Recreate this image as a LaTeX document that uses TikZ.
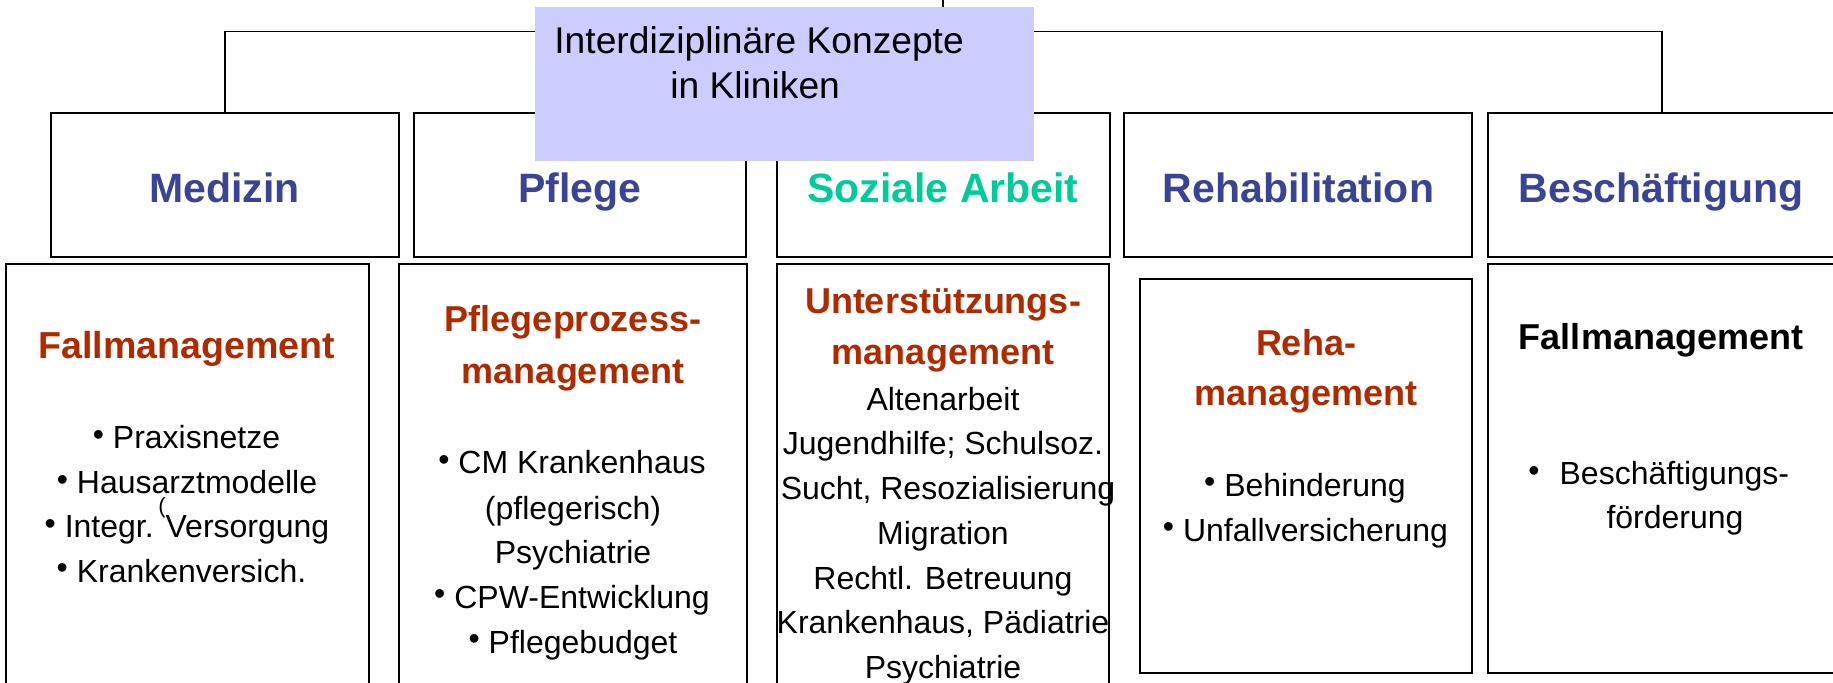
\documentclass[tikz,border=0pt]{standalone}
\usepackage{fontspec}
\usepackage{graphicx}
\setmainfont{Liberation Sans}
\definecolor{hblue}{RGB}{58,67,149}
\definecolor{hgreen}{RGB}{0,204,153}
\definecolor{hred}{RGB}{176,42,0}
\definecolor{lav}{RGB}{204,204,255}
\newcommand{\bul}{\raisebox{0.12em}{•}\ }
\begin{document}
\begin{tikzpicture}[x=0.5pt,y=-0.5pt,
  box/.style={draw=black,line width=1pt,inner sep=0pt},
  conn/.style={draw=black,line width=0.75pt},
  hdA/.style={font=\fontsize{20.5}{24}\selectfont\bfseries,anchor=base,text=hblue,inner sep=0pt},
  hdB/.style={font=\fontsize{18}{21}\selectfont\bfseries,anchor=base,text=hred,inner sep=0pt},
  bt/.style={font=\fontsize{16}{19}\selectfont,anchor=base,inner sep=0pt},
  ]
\useasboundingbox (0,0) rectangle (1833,683);

% row 1 boxes
\node[box,minimum width=347.5*0.5pt,minimum height=144*0.5pt] (med) at (224.75,184.7) {};
\node[box,minimum width=332.4*0.5pt,minimum height=144*0.5pt] (pfl) at (580.2,184.7) {};
\node[box,minimum width=333*0.5pt,minimum height=144*0.5pt] (soz) at (943,184.7) {};
\node[box,minimum width=348*0.5pt,minimum height=144*0.5pt] (reh) at (1298.35,184.7) {};
\node[box,minimum width=348*0.5pt,minimum height=144*0.5pt] (bes) at (1662,184.7) {};

% connectors
\coordinate (topin) at (943,0);
\coordinate (hl) at (943,31.7);
\draw[conn] (topin) -- (hl);
\draw[conn] (med.north) -- (med.north |- hl) -- (bes.north |- hl) -- (bes.north);

% central box
\node[fill=lav,minimum width=499*0.5pt,minimum height=154*0.5pt,inner sep=0pt] (root) at (784.5,84) {};
\node[font=\fontsize{18.6}{22}\selectfont,anchor=base west,inner sep=0pt] (rootA) at (554,53.3) {Interdiziplinäre Konzepte};
\node[font=\fontsize{18.6}{22}\selectfont,anchor=base west,inner sep=0pt] (rootB) at (670,98.3) {in Kliniken};

% row 1 titles
\node[hdA] (tmed) at (224.6,203) {Medizin};
\node[hdA] (tpfl) at (580,203) {Pflege};
\node[hdA,text=hgreen] (tsoz) at (943,203) {Soziale Arbeit};
\node[hdA] (treh) at (1298.5,203) {Rehabilitation};
\node[hdA] (tbes) at (1661,203) {Beschäftigung};

% row 2 boxes
\node[box,minimum width=363.4*0.5pt,minimum height=436*0.5pt] (fall) at (187.3,482) {};
\node[box,minimum width=348*0.5pt,minimum height=436*0.5pt] (pp) at (573,482) {};
\node[box,minimum width=332*0.5pt,minimum height=436*0.5pt] (us) at (943,482) {};
\node[box,minimum width=332*0.5pt,minimum height=393.4*0.5pt] (rm) at (1306,476) {};
\node[box,minimum width=349*0.5pt,minimum height=408.7*0.5pt] (bf) at (1662,468.35) {};

% Fallmanagement
\node[hdB,font=\fontsize{18.8}{21}\selectfont\bfseries] (f0) at (187,358.3) {Fallmanagement};
\node[bt] (f1) at (186.5,449) {\bul Praxisnetze};
\node[bt] (f2) at (187,494) {\bul Hausarztmodelle};
\node[bt] (f3) at (187,538) {\bul Integr. Versorgung};
\node[bt] (f4) at (181.5,582.7) {\bul Krankenversich.};
\node[font=\fontsize{11}{13}\selectfont,anchor=base,inner sep=0pt] (fpar) at (162,514) {(};

% Pflegeprozess
\node[hdB] (p0) at (573,331.7) {Pflegeprozess-};
\node[hdB] (p0b) at (573,383.3) {management};
\node[bt] (p1) at (572,474) {\bul CM Krankenhaus};
\node[bt] (p2) at (573,519.3) {(pflegerisch)};
\node[bt] (p3) at (573,563.3) {Psychiatrie};
\node[bt] (p4) at (572,608.3) {\bul CPW-Entwicklung};
\node[bt] (p5) at (573,653.3) {\bul Pflegebudget};

% Unterstuetzungsmanagement
\node[hdB] (u0) at (943,313.3) {Unterstützungs-};
\node[hdB] (u0b) at (943,365) {management};
\node[bt] (u1) at (943,410.7) {Altenarbeit};
\node[bt] (u2) at (943,455) {Jugendhilfe; Schulsoz.};
\node[bt] (u3) at (948,499.3) {Sucht, Resozialisierung};
\node[bt] (u4) at (943,545) {Migration};
\node[bt] (u5) at (943,590) {Rechtl. Betreuung};
\node[bt] (u6) at (943,634) {Krankenhaus, Pädiatrie};
\node[bt] (u7) at (943,678.3) {Psychiatrie};

% Rehamanagement
\node[hdB] (r0) at (1306,356) {Reha-};
\node[hdB] (r0b) at (1306,406) {management};
\node[bt] (r1) at (1305,496.7) {\bul Behinderung};
\node[bt] (r2) at (1305.5,541.7) {\bul Unfallversicherung};

% Beschaeftigung
\node[hdB,text=black] (b0) at (1661,350) {Fallmanagement};
\node[bt,anchor=base west] (b1) at (1528,485) {\raisebox{0.12em}{•}\hspace{10pt}Beschäftigungs-};
\node[bt] (b2) at (1675,528.3) {förderung};
\end{tikzpicture}
\end{document}
